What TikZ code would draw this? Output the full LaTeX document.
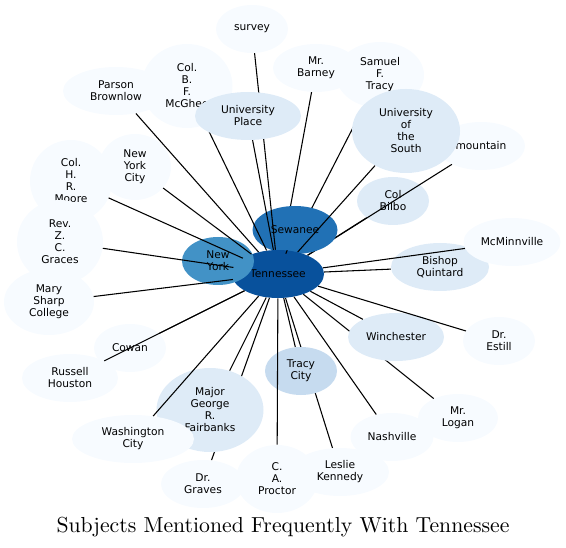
\documentclass[tikz,border=0pt]{standalone}
\usepackage{fontspec}
\usetikzlibrary{shapes.geometric}
\newfontfamily\subjfont{DejaVu Sans}
\newfontfamily\titlefont{lmroman10-regular}[Extension=.otf]
\definecolor{tnDark}{HTML}{08519C}
\definecolor{sewBlue}{HTML}{2171B5}
\definecolor{nyBlue}{HTML}{4292C6}
\definecolor{tcBlue}{HTML}{C6DBEF}
\definecolor{lightBlue}{HTML}{DEEBF7}
\definecolor{paleBlue}{HTML}{F7FBFF}
\pgfdeclarelayer{nodeback}
\pgfdeclarelayer{edgelow}
\pgfdeclarelayer{nodelow}
\pgfdeclarelayer{edgemid}
\pgfdeclarelayer{edgetop}
\pgfsetlayers{nodeback,edgelow,nodelow,edgemid,main,edgetop}
\tikzset{
  subj/.style={ellipse, inner sep=0pt, align=center, text=black,
    font={\subjfont\fontsize{8}{9}\selectfont}},
  sz/.style 2 args={minimum width=#1*0.75pt, minimum height=#2*0.75pt},
  link/.style={line width=0.8pt}
}

\begin{document}
\begin{tikzpicture}[x=0.75pt,y=-0.75pt]
\useasboundingbox (0,0) rectangle (566,548);
% hub
\begin{pgfonlayer}{nodelow}
\node[subj, fill=sewBlue, sz={85}{48}] (sew) at (295,230) {Sewanee};
\node[subj, fill=tnDark, sz={92}{48}] (tn) at (278,274) {Tennessee};
\end{pgfonlayer}
\begin{pgfonlayer}{nodeback}
\node[subj, fill=lightBlue, sz={72}{48}] (bilbo) at (393,201) {Col\\Bilbo};
\end{pgfonlayer}
% subjects
\node[subj, fill=paleBlue, sz={106}{48}] (brownlow) at (116,91) {Parson\\Brownlow};
\node[subj, fill=paleBlue, sz={91}{84}] (mcghee) at (187,86) {Col.\\B.\\F.\\McGhee};
\node[subj, fill=paleBlue, sz={72}{48}] (survey) at (252,29) {survey};
\node[subj, fill=lightBlue, sz={106}{48}] (uplace) at (248,116) {University\\Place};
\node[subj, fill=paleBlue, sz={86}{48}] (barney) at (316,68) {Mr.\\Barney};
\node[subj, fill=paleBlue, sz={88}{66}] (sftracy) at (380,75) {Samuel\\F.\\Tracy};
\node[subj, fill=paleBlue, sz={88}{48}] (mountain) at (481,146) {mountain};
\node[subj, fill=lightBlue, sz={108}{84}] (uos) at (406,131) {University\\of\\the\\South};
\node[subj, fill=lightBlue, sz={98}{48}] (quintard) at (440,267) {Bishop\\Quintard};
\node[subj, fill=paleBlue, sz={97}{48}] (mcminn) at (512,242) {McMinnville};
\node[subj, fill=paleBlue, sz={72}{48}] (estill) at (499,341) {Dr.\\Estill};
\node[subj, fill=lightBlue, sz={96}{48}] (winch) at (396,337) {Winchester};
\node[subj, fill=paleBlue, sz={83}{48}] (nash) at (392,437) {Nashville};
\node[subj, fill=paleBlue, sz={80}{48}] (logan) at (458,418) {Mr.\\Logan};
\node[subj, fill=tcBlue, sz={72}{48}] (tcity) at (301,371) {Tracy\\City};
\node[subj, fill=paleBlue, sz={84}{48}] (graves) at (203,484) {Dr.\\Graves};
\node[subj, fill=paleBlue, sz={82}{68}] (proctor) at (277,479) {C.\\A.\\Proctor};
\node[subj, fill=paleBlue, sz={98}{48}] (kennedy) at (340,472) {Leslie\\Kennedy};
\node[subj, fill=lightBlue, sz={107}{84}] (fairbanks) at (210,410) {Major\\George\\R.\\Fairbanks};
\node[subj, fill=paleBlue, sz={122}{48}] (wash) at (133,439) {Washington\\City};
\node[subj, fill=paleBlue, sz={72}{48}] (cowan) at (130,348) {Cowan};
\node[subj, fill=paleBlue, sz={96}{48}] (houston) at (70,378) {Russell\\Houston};
\node[subj, fill=paleBlue, sz={82}{82}] (moore) at (71,181) {Col.\\H.\\R.\\Moore};
\node[subj, fill=paleBlue, sz={72}{66}] (nycity) at (135,167) {New\\York\\City};
\node[subj, fill=paleBlue, sz={86}{84}] (graces) at (60,242) {Rev.\\Z.\\C.\\Graces};
\node[subj, fill=paleBlue, sz={90}{66}] (marysharp) at (49,302) {Mary\\Sharp\\College};
\node[subj, fill=nyBlue, sz={72}{48}] (ny) at (218,261) {New\\York};
% links to the hub
\begin{pgfonlayer}{edgelow}
\foreach \s in {barney,sftracy,mountain,bilbo}
  \draw[link] (\s) -- (tn);
\end{pgfonlayer}
\begin{pgfonlayer}{edgemid}
\foreach \s in {survey,mcghee,graves,kennedy,logan}
  \draw[link] (\s) -- (tn);
\draw[link] (sew) -- (tn);
\end{pgfonlayer}
\begin{pgfonlayer}{edgetop}
\foreach \s in {brownlow,uplace,uos,mcminn,quintard,estill,winch,nash,tcity,proctor,fairbanks,wash,cowan,houston,marysharp,graces,moore,nycity}
  \draw[link] (\s) -- (tn);
\end{pgfonlayer}
\node[font={\titlefont\fontsize{16.3}{19}\selectfont}, anchor=base] (title) at (283,532) {Subjects Mentioned Frequently With Tennessee};
\end{tikzpicture}
\end{document}
